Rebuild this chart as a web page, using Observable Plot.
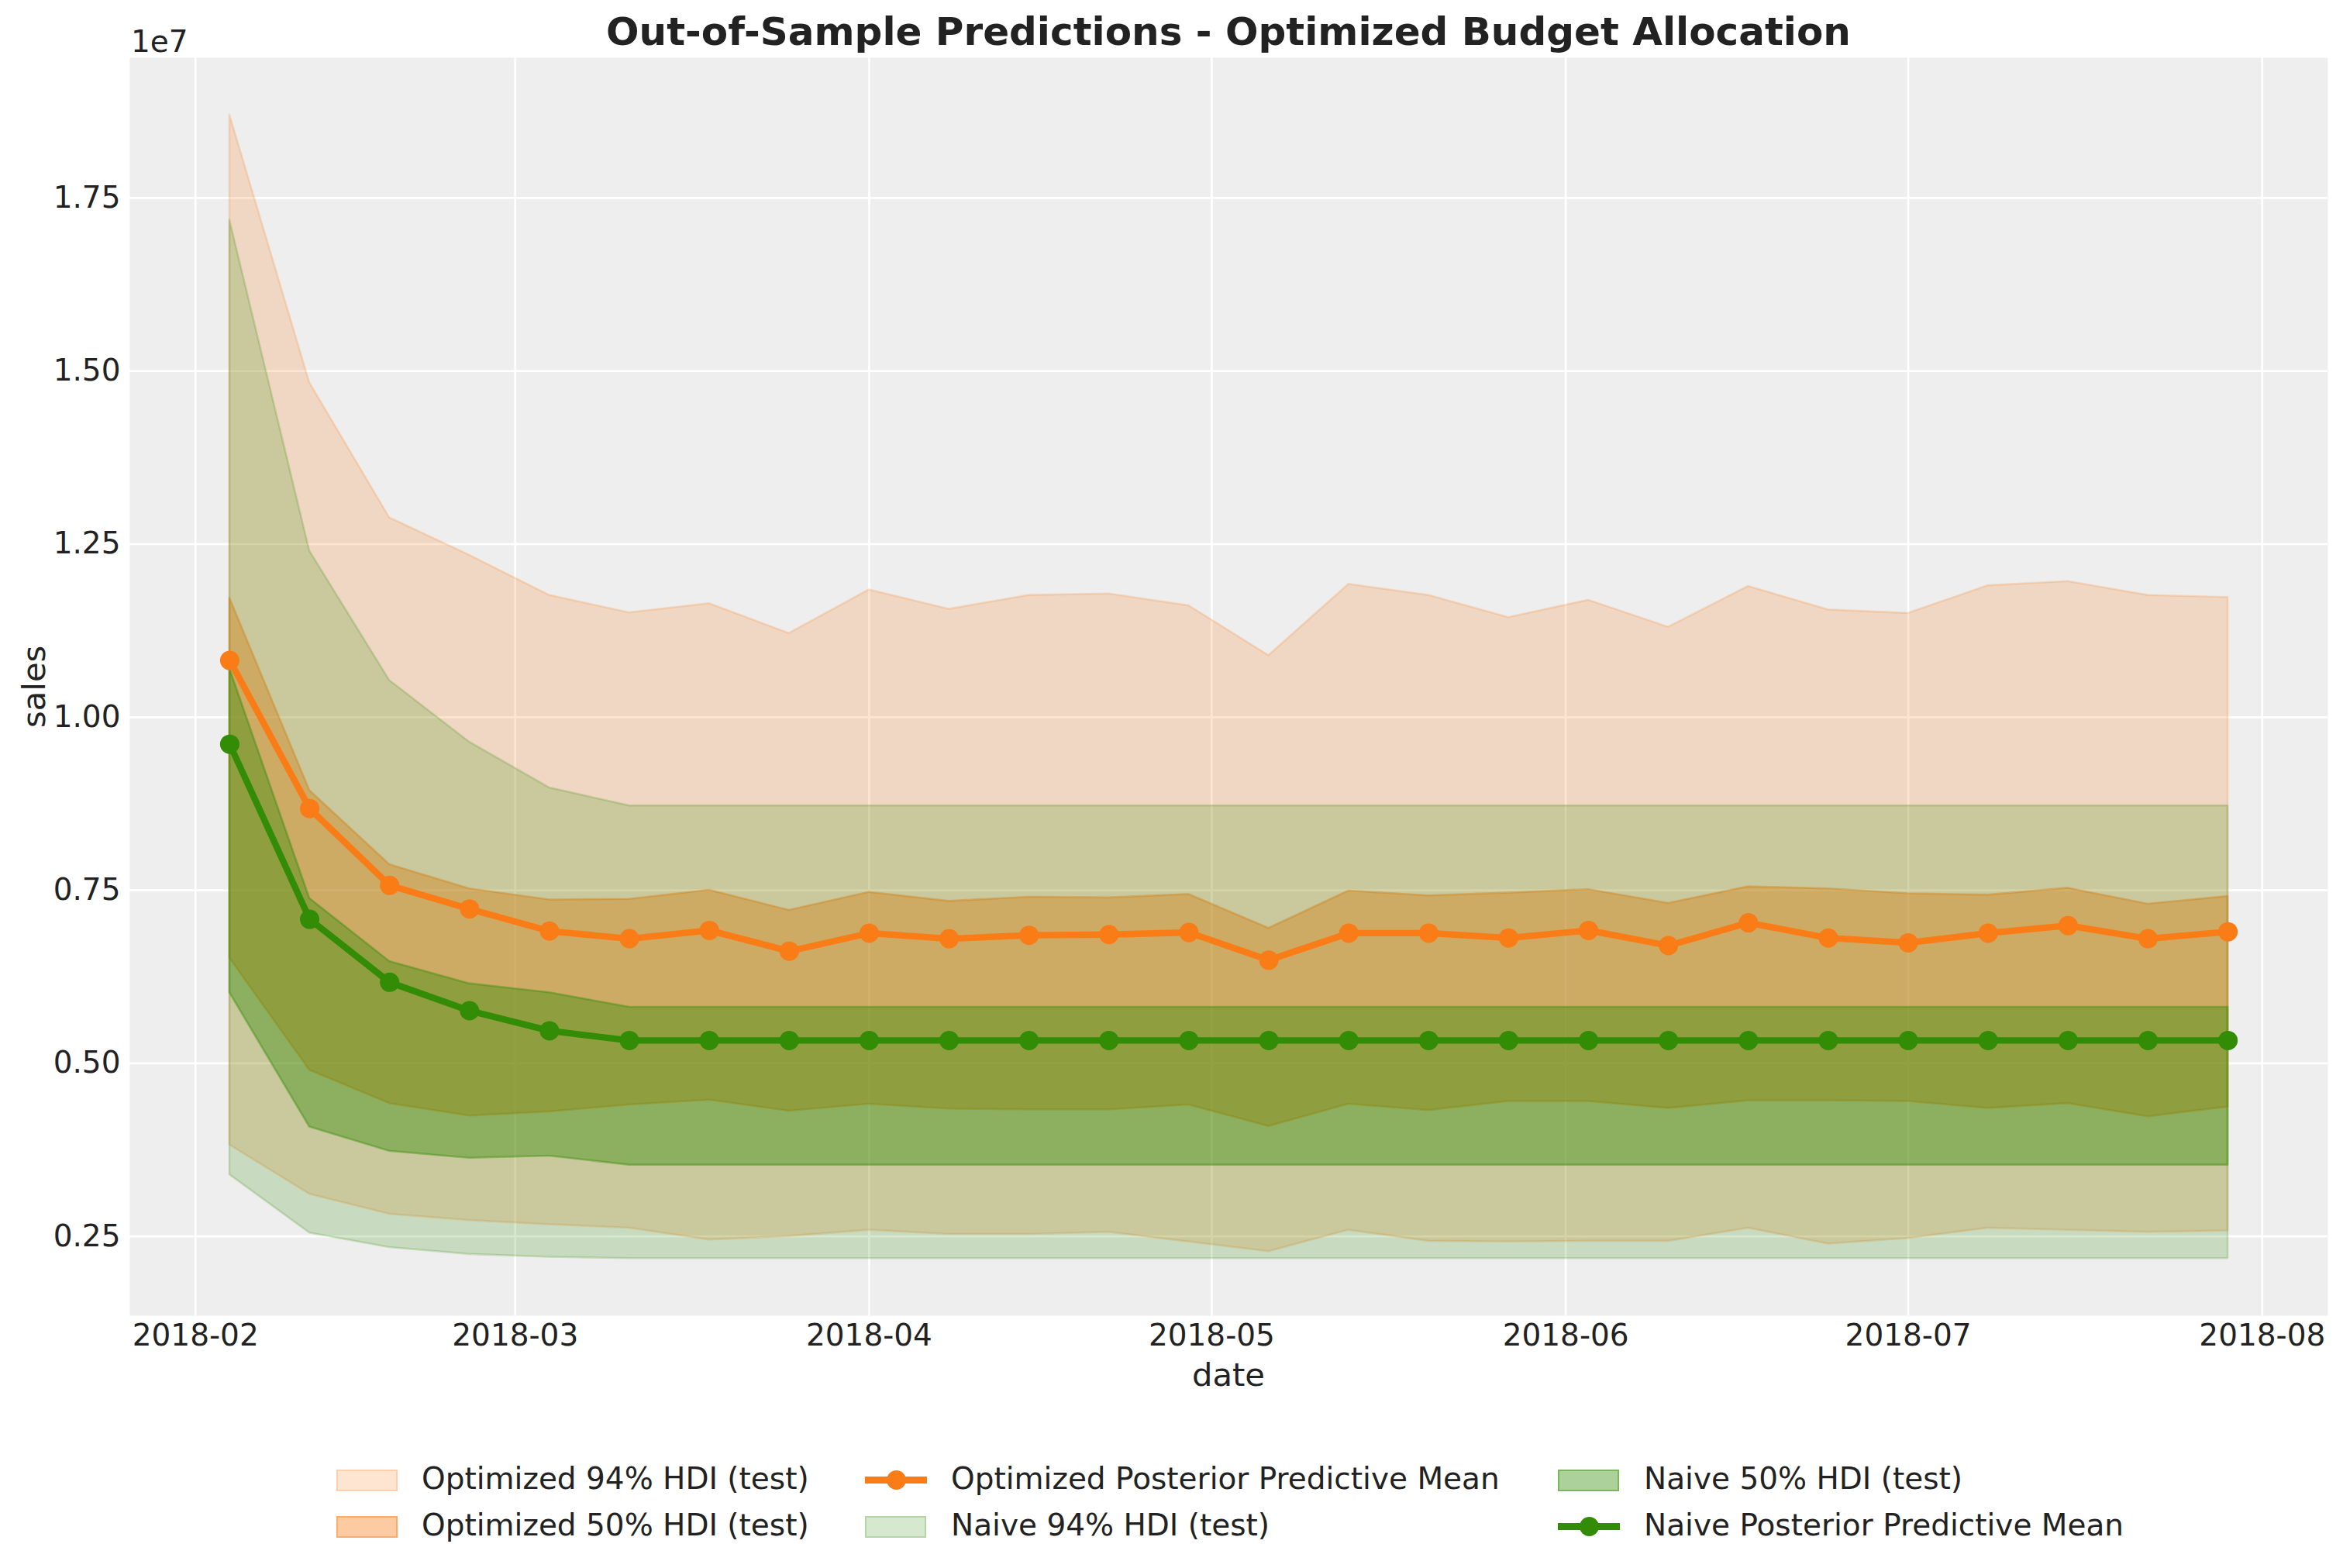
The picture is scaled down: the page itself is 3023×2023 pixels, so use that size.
<!DOCTYPE html>
<html>
<head>
<meta charset="utf-8">
<script src="https://cdn.jsdelivr.net/npm/d3@7"></script>
<script src="https://cdn.jsdelivr.net/npm/@observablehq/plot@0.6"></script>
<style>
  html, body { margin: 0; padding: 0; background: #ffffff; overflow: hidden; }
  #wrap { position: relative; width: 3023px; height: 2023px; font-family: "DejaVu Sans", sans-serif; color: #222222; }
  #wrap svg { position: absolute; left: 0; top: 0; }
  .abs { position: absolute; line-height: 1; white-space: nowrap; }
  .sw { position: absolute; box-sizing: border-box; width: 79px; height: 28px; }
  .ln { position: absolute; width: 80px; height: 8.3px; }
  .mk { position: absolute; width: 25px; height: 25px; border-radius: 50%; }
</style>
</head>
<body>
<div id="wrap"></div>
<script>
// ---- data (sales values in units of 1e7) ----
const dates = ["2018-02-04","2018-02-11","2018-02-18","2018-02-25","2018-03-04","2018-03-11","2018-03-18","2018-03-25",
  "2018-04-01","2018-04-08","2018-04-15","2018-04-22","2018-04-29","2018-05-06","2018-05-13","2018-05-20","2018-05-27",
  "2018-06-03","2018-06-10","2018-06-17","2018-06-24","2018-07-01","2018-07-08","2018-07-15","2018-07-22","2018-07-29"];

const optMean = [1.082,0.868,0.757,0.723,0.691,0.680,0.692,0.662,0.688,0.680,0.685,0.686,0.689,0.649,0.688,0.688,0.681,0.692,0.670,0.703,0.681,0.674,0.688,0.699,0.680,0.690];
const opt94Hi = [1.870,1.483,1.288,1.234,1.176,1.151,1.164,1.121,1.184,1.156,1.176,1.178,1.161,1.089,1.192,1.176,1.144,1.169,1.130,1.189,1.155,1.150,1.190,1.196,1.176,1.173];
const opt94Lo = [0.382,0.311,0.282,0.273,0.267,0.262,0.245,0.250,0.259,0.253,0.253,0.256,0.242,0.228,0.259,0.243,0.242,0.243,0.243,0.262,0.239,0.247,0.262,0.259,0.256,0.258];
const opt50Hi = [1.172,0.894,0.787,0.752,0.736,0.737,0.750,0.721,0.747,0.734,0.740,0.739,0.744,0.695,0.749,0.742,0.746,0.751,0.731,0.755,0.752,0.745,0.743,0.753,0.730,0.741];
const opt50Lo = [0.652,0.490,0.442,0.424,0.430,0.440,0.447,0.431,0.441,0.434,0.433,0.433,0.440,0.409,0.441,0.432,0.445,0.445,0.435,0.446,0.446,0.445,0.435,0.442,0.423,0.437];

const naiveMean = [0.961,0.708,0.617,0.576,0.547,0.533,0.533,0.533,0.533,0.533,0.533,0.533,0.533,0.533,0.533,0.533,0.533,0.533,0.533,0.533,0.533,0.533,0.533,0.533,0.533,0.533];
const naive94Hi = [1.718,1.240,1.053,0.964,0.898,0.872,0.872,0.872,0.872,0.872,0.872,0.872,0.872,0.872,0.872,0.872,0.872,0.872,0.872,0.872,0.872,0.872,0.872,0.872,0.872,0.872];
const naive94Lo = [0.339,0.255,0.234,0.224,0.220,0.218,0.218,0.218,0.218,0.218,0.218,0.218,0.218,0.218,0.218,0.218,0.218,0.218,0.218,0.218,0.218,0.218,0.218,0.218,0.218,0.218];
const naive50Hi = [1.070,0.738,0.647,0.615,0.602,0.581,0.581,0.581,0.581,0.581,0.581,0.581,0.581,0.581,0.581,0.581,0.581,0.581,0.581,0.581,0.581,0.581,0.581,0.581,0.581,0.581];
const naive50Lo = [0.602,0.408,0.373,0.363,0.366,0.353,0.353,0.353,0.353,0.353,0.353,0.353,0.353,0.353,0.353,0.353,0.353,0.353,0.353,0.353,0.353,0.353,0.353,0.353,0.353,0.353];

const xTicks = ["2018-02-01","2018-03-01","2018-04-01","2018-05-01","2018-06-01","2018-07-01","2018-08-01"];
const yTicks = [0.25,0.50,0.75,1.00,1.25,1.50,1.75];

const SCALE = 1e7;
const ORANGE = "#fa7c17";
const GREEN = "#328c06";

// ---- table ----
const rows = dates.map((d, i) => ({
  date: new Date(d + "T00:00:00Z"),
  optMean: optMean[i] * SCALE, opt94Hi: opt94Hi[i] * SCALE, opt94Lo: opt94Lo[i] * SCALE,
  opt50Hi: opt50Hi[i] * SCALE, opt50Lo: opt50Lo[i] * SCALE,
  naiveMean: naiveMean[i] * SCALE, naive94Hi: naive94Hi[i] * SCALE, naive94Lo: naive94Lo[i] * SCALE,
  naive50Hi: naive50Hi[i] * SCALE, naive50Lo: naive50Lo[i] * SCALE
}));

// matplotlib-like 5% margins
const allY = rows.flatMap(r => [r.opt94Hi, r.opt94Lo, r.naive94Hi, r.naive94Lo, r.optMean, r.naiveMean]);
const [y0, y1] = d3.extent(allY);
const yPad = 0.05 * (y1 - y0);
const [x0, x1] = d3.extent(rows, r => r.date);
const xPad = 0.05 * (x1 - x0);

const band = (lo, hi, color, alpha) => Plot.areaY(rows, {
  x: "date", y1: lo, y2: hi, fill: color, fillOpacity: alpha,
  stroke: color, strokeOpacity: alpha, strokeWidth: 2.6
});

const chart = Plot.plot({
  width: 3023,
  height: 1800,
  marginTop: 74,
  marginLeft: 167,
  marginRight: 20,
  marginBottom: 103,
  style: { fontFamily: "DejaVu Sans, sans-serif", color: "#222222", background: "transparent", overflow: "visible" },
  x: { type: "utc", domain: [new Date(+x0 - xPad), new Date(+x1 + xPad)] },
  y: { domain: [y0 - yPad, y1 + yPad] },
  marks: [
    Plot.frame({ fill: "#eeeeee", stroke: null }),
    Plot.gridX(xTicks.map(t => new Date(t + "T00:00:00Z")), { stroke: "#ffffff", strokeOpacity: 1, strokeWidth: 2.7 }),
    Plot.gridY(yTicks.map(t => t * SCALE), { stroke: "#ffffff", strokeOpacity: 1, strokeWidth: 2.7 }),
    band("opt94Lo", "opt94Hi", ORANGE, 0.2),
    band("opt50Lo", "opt50Hi", ORANGE, 0.4),
    band("naive94Lo", "naive94Hi", GREEN, 0.2),
    band("naive50Lo", "naive50Hi", GREEN, 0.4),
    Plot.line(rows, { x: "date", y: "optMean", stroke: ORANGE, strokeWidth: 8.3 }),
    Plot.dot(rows, { x: "date", y: "optMean", r: 12.5, fill: ORANGE, stroke: null }),
    Plot.line(rows, { x: "date", y: "naiveMean", stroke: GREEN, strokeWidth: 8.3 }),
    Plot.dot(rows, { x: "date", y: "naiveMean", r: 12.5, fill: GREEN, stroke: null }),
    Plot.axisX({
      ticks: xTicks.map(t => new Date(t + "T00:00:00Z")),
      tickFormat: d3.utcFormat("%Y-%m"),
      tickSize: 0, tickPadding: 11, fontSize: 39, label: null
    }),
    Plot.axisY({
      ticks: yTicks.map(t => t * SCALE),
      tickFormat: d => (d / SCALE).toFixed(2),
      tickSize: 0, tickPadding: 12, fontSize: 39, label: null
    })
  ]
});

const wrap = document.getElementById("wrap");
wrap.appendChild(chart);

function addText(text, css) {
  const el = document.createElement("div");
  el.className = "abs";
  el.textContent = text;
  Object.assign(el.style, css);
  wrap.appendChild(el);
  return el;
}

// title and axis annotations
addText("Out-of-Sample Predictions - Optimized Budget Allocation",
  { left: "167px", width: "2836px", textAlign: "center", top: "15.7px", fontSize: "50px", fontWeight: "bold", color: "#222222" });
addText("1e7", { left: "169px", top: "34px", fontSize: "39px" });
addText("date", { left: "1385px", width: "400px", textAlign: "center", top: "1752.7px", fontSize: "41.7px" });
addText("sales", { left: "-156.4px", width: "400px", textAlign: "center", top: "864.65px", fontSize: "41.7px", transform: "rotate(-90deg)" });

// legend (matplotlib column-major order, 3 columns)
const legendItems = [
  { label: "Optimized 94% HDI (test)", kind: "patch", color: ORANGE, alpha: 0.2, col: 0, row: 0 },
  { label: "Optimized 50% HDI (test)", kind: "patch", color: ORANGE, alpha: 0.4, col: 0, row: 1 },
  { label: "Optimized Posterior Predictive Mean", kind: "line", color: ORANGE, col: 1, row: 0 },
  { label: "Naive 94% HDI (test)", kind: "patch", color: GREEN, alpha: 0.2, col: 1, row: 1 },
  { label: "Naive 50% HDI (test)", kind: "patch", color: GREEN, alpha: 0.4, col: 2, row: 0 },
  { label: "Naive Posterior Predictive Mean", kind: "line", color: GREEN, col: 2, row: 1 }
];
const colHandle = [434, 1116, 2010];
const colText = [544, 1227, 2121];
const rowBase = [1921, 1981];
function rgba(hex, a) {
  const c = d3.rgb(hex); return `rgba(${c.r},${c.g},${c.b},${a})`;
}
for (const it of legendItems) {
  const cy = rowBase[it.row] - 11.5;
  if (it.kind === "patch") {
    const sw = document.createElement("div");
    sw.className = "sw";
    Object.assign(sw.style, {
      left: colHandle[it.col] + "px", top: (cy - 14) + "px",
      background: rgba(it.color, it.alpha), border: `2.6px solid ${rgba(it.color, it.alpha)}`
    });
    wrap.appendChild(sw);
  } else {
    const ln = document.createElement("div");
    ln.className = "ln";
    Object.assign(ln.style, { left: colHandle[it.col] + "px", top: (cy - 4.15) + "px", background: it.color });
    wrap.appendChild(ln);
    const mk = document.createElement("div");
    mk.className = "mk";
    Object.assign(mk.style, { left: (colHandle[it.col] + 40 - 12.5) + "px", top: (cy - 12.5) + "px", background: it.color });
    wrap.appendChild(mk);
  }
  addText(it.label, { left: colText[it.col] + "px", top: (rowBase[it.row] - 0.846 * 39) + "px", fontSize: "39px" });
}
</script>
</body>
</html>
